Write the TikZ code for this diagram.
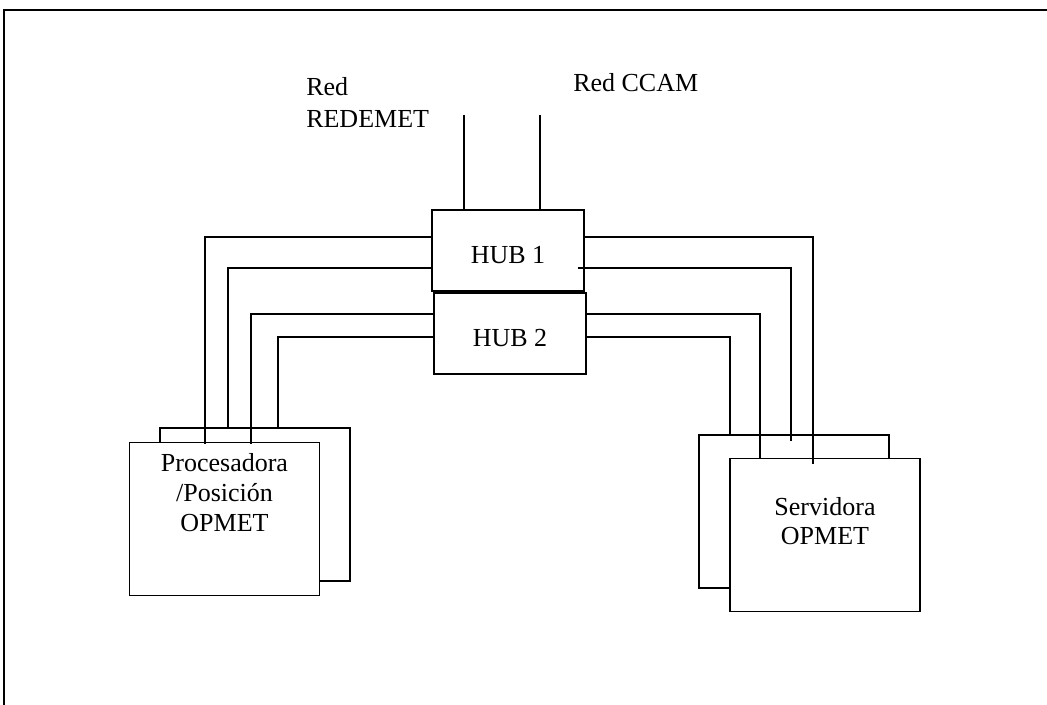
\documentclass[tikz,border=0pt]{standalone}
\usepackage{fontspec}
\setmainfont{Liberation Serif}
\begin{document}
\begin{tikzpicture}[x=0.75pt,y=-0.75pt,
    box/.style={draw,line width=1.1pt,fill=white,minimum width=142.5pt,minimum height=115pt,inner sep=0pt},
    hub/.style={draw,line width=0.9pt,minimum width=114pt,minimum height=60.75pt,text height=20pt,inner sep=0pt,
      font=\fontsize{19.5}{22.5}\selectfont},
    wire/.style={line width=0.9pt},
    lbl/.style={inner sep=0pt,align=center,font=\fontsize{19.5}{22.5}\selectfont}]
  \useasboundingbox (0,0) rectangle (1047,705);
  \draw [line width=1.5pt] (4,705) -- (4,10) -- (1047,10);
  %
  \node [hub] (hubA) at (508,250.5) {HUB 1};
  \node [hub] (hubB) at (510,333.5) {HUB 2};
  \node [box] (procB) at (255,504.5) {};
  \node [box] (procA) at (224.5,519) {};
  \node [box] (servB) at (794,511.5) {};
  \node [box] (servA) at (825,535) {};
  \node [lbl,anchor=north] (procAtxt) at ([yshift=-8.6pt]procA.north) {Procesadora\\/Posición\\OPMET};
  \node [lbl,anchor=north] (servAtxt) at ([yshift=-30pt]servA.north) {Servidora\\[-0.75pt]OPMET};
  %
  \coordinate (redA) at (464,115);
  \coordinate (redB) at (540,115);
  \draw [wire] (redA) -- (redA |- hubA.north);
  \draw [wire] (redB) -- (redB |- hubA.north);
  \node [lbl,align=left,anchor=north west] (redemet) at (306,77) {Red\\[1.5pt]REDEMET};
  \node [lbl,anchor=base west] (ccam) at (573,92) {Red CCAM};
  %
  \draw [wire] (hubA.west |- 0,237) -| ([yshift=-2pt]procA.north -| 205,0);
  \draw [wire] (hubA.west |- 0,268) -| (procB.north -| 228,0);
  \draw [wire] (hubB.west |- 0,314) -| ([yshift=-1.5pt]procA.north -| 251,0);
  \draw [wire] (hubB.west |- 0,337) -| (procB.north -| 278,0);
  %
  \draw [wire] (hubA.east |- 0,237) -| ([yshift=-5pt]servA.north -| 813,0);
  \draw [wire] ([xshift=-5pt]hubA.east |- 0,268) -| ([yshift=-5pt]servB.north -| 791,0);
  \draw [wire] (hubB.east |- 0,314) -| (servA.north -| 760,0);
  \draw [wire] (hubB.east |- 0,337) -| (servB.north -| 730,0);
\end{tikzpicture}
\end{document}
